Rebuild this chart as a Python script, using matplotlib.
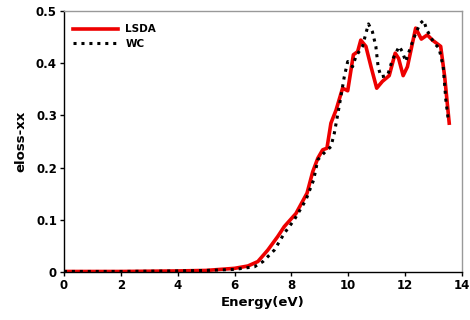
import matplotlib

matplotlib.use("Agg")

import matplotlib.pyplot as plt  # noqa: E402
from matplotlib.ticker import FuncFormatter  # noqa: E402

# LSDA curve (energy in eV, eloss-xx)
lsda_e = [0.0, 1.0, 2.0, 3.0, 4.0, 5.0, 5.5, 6.0, 6.47, 6.82, 7.17, 7.52, 7.75,
          8.16, 8.55, 8.75, 8.93, 9.10, 9.25, 9.39, 9.57, 9.80, 9.98, 10.18,
          10.33, 10.44, 10.62, 10.80, 11.0, 11.2, 11.44, 11.65, 11.77, 11.93,
          12.08, 12.37, 12.57, 12.78, 12.96, 13.25, 13.39, 13.55]
lsda_v = [0.001, 0.001, 0.001, 0.0015, 0.002, 0.003, 0.005, 0.007, 0.0115,
          0.020, 0.042, 0.068, 0.087, 0.112, 0.151, 0.192, 0.218, 0.234, 0.237,
          0.285, 0.310, 0.352, 0.347, 0.416, 0.422, 0.444, 0.432, 0.393, 0.352,
          0.365, 0.376, 0.419, 0.409, 0.376, 0.393, 0.467, 0.446, 0.454, 0.444,
          0.432, 0.374, 0.285]

# WC curve
wc_e = [0.0, 1.0, 2.0, 3.0, 4.0, 5.0, 5.5, 6.0, 6.70, 7.0, 7.40, 7.75, 8.1,
        8.51, 8.78, 8.93, 9.15, 9.39, 9.51, 9.68, 9.86, 9.98, 10.15, 10.27,
        10.5, 10.62, 10.71, 10.85, 10.97, 11.05, 11.15, 11.38, 11.55, 11.79,
        11.9, 12.02, 12.2, 12.37, 12.53, 12.65, 12.76, 13.02, 13.19, 13.34,
        13.43, 13.52]
wc_v = [0.001, 0.001, 0.001, 0.0015, 0.002, 0.003, 0.004, 0.005, 0.010, 0.020,
        0.042, 0.074, 0.100, 0.138, 0.176, 0.215, 0.228, 0.240, 0.266, 0.317,
        0.374, 0.403, 0.393, 0.413, 0.432, 0.457, 0.475, 0.460, 0.432, 0.393,
        0.374, 0.376, 0.406, 0.432, 0.422, 0.403, 0.432, 0.457, 0.476, 0.482,
        0.464, 0.438, 0.429, 0.393, 0.330, 0.290]

x_ticks = [0, 2, 4, 6, 8, 10, 12, 14]
y_ticks = [0, 0.1, 0.2, 0.3, 0.4, 0.5]

plt.rcParams["font.family"] = ["DejaVu Sans"]
plt.rcParams["font.weight"] = "bold"

fig = plt.figure(figsize=(4.7, 3.2), dpi=100, facecolor="white")
ax = fig.add_axes([0.136, 0.15, 0.847, 0.816])

ax.plot(lsda_e, lsda_v, color="#ee0000", linewidth=2.6, label="LSDA")
ax.plot(wc_e, wc_v, color="black", linewidth=2.2, linestyle=(0, (1, 1.6)),
        label="WC")

ax.set_xlim(0, 14)
ax.set_ylim(0, 0.5)
ax.set_xticks(x_ticks)
ax.set_yticks(y_ticks)


def fmt(v, _pos):
    return "0" if v == 0 else f"{v:g}"


ax.xaxis.set_major_formatter(FuncFormatter(fmt))
ax.yaxis.set_major_formatter(FuncFormatter(fmt))

ax.set_xlabel("Energy(eV)", fontsize=9.5, fontweight="bold", labelpad=3)
ax.set_ylabel("eloss-xx", fontsize=9.5, fontweight="bold", labelpad=6)
ax.tick_params(labelsize=8.5, direction="out", length=3, width=1, pad=2)
for lab in ax.get_xticklabels() + ax.get_yticklabels():
    lab.set_fontweight("bold")

for side in ("left", "bottom"):
    ax.spines[side].set_color("black")
    ax.spines[side].set_linewidth(1.0)
for side in ("top", "right"):
    ax.spines[side].set_color("#999999")
    ax.spines[side].set_linewidth(1.0)

leg = ax.legend(loc="upper left", frameon=False, fontsize=7.5,
                handlelength=4.3, handletextpad=0.7, borderaxespad=0.5,
                labelspacing=0.45, bbox_to_anchor=(0.0, 0.985))
for t in leg.get_texts():
    t.set_fontweight("bold")

fig.savefig("out.png", dpi=100, facecolor="white")
plt.close(fig)
